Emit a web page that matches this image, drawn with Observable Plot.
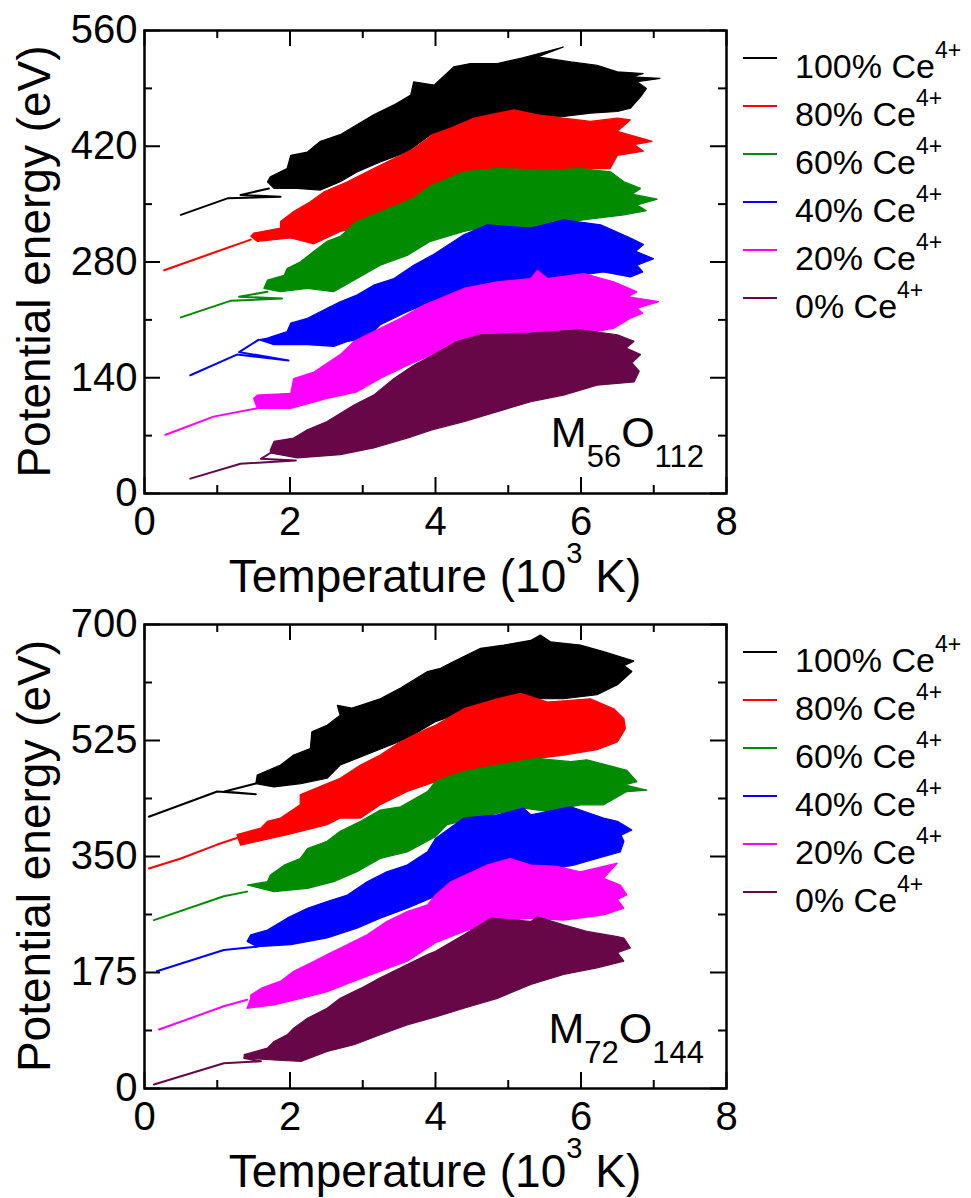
<!DOCTYPE html>
<html>
<head>
<meta charset="utf-8">
<script src="https://cdn.jsdelivr.net/npm/d3@7"></script>
<script src="https://cdn.jsdelivr.net/npm/@observablehq/plot@0.6"></script>
<style>
  html, body { margin: 0; padding: 0; background: #fff; }
  #chart svg { display: block; }
</style>
</head>
<body>
<div id="chart"></div>
<script>
// ---------- categories, colours, ticks ----------
const seriesNames = ["100%", "80%", "60%", "40%", "20%", "0%"];
const seriesColors = ["#000000", "#ff0000", "#008b00", "#0000ff", "#ff00ff", "#670748"];
const xTicks = [0, 2, 4, 6, 8];
const xMinorTicks = [1, 3, 5, 7];
const yTicksTop = [0, 140, 280, 420, 560];
const yMinorTop = [70, 210, 350, 490];
const yTicksBottom = [0, 175, 350, 525, 700];
const yMinorBottom = [87.5, 262.5, 437.5, 612.5];

// ---------- M56O112 (top): [T (10^3 K), E (eV)] ----------
// initial heating traces
const top100Line = [[0.50,337],[1.14,357],[1.87,359],[1.32,361],[1.71,369]];
const top80Line  = [[0.27,270],[0.91,290],[1.46,307]];
const top60Line  = [[0.50,213],[1.18,233],[1.89,236],[1.30,238],[1.69,244]];
const top40Line  = [[0.63,143],[1.27,168],[1.98,161],[1.30,171],[1.57,186]];
const top20Line  = [[0.29,71],[0.95,93],[1.55,103]];
const top0Line   = [[0.63,18],[1.32,36],[2.08,40],[1.60,42],[1.73,49]];
// outlines of the fluctuating regions
const top100Blob = [[1.69,377],[1.73,383],[1.96,393],[2.01,409],[2.24,413],[2.42,426],[2.69,434],[2.92,446],[3.15,458],[3.43,470],[3.66,482],[3.70,498],[3.98,494],[4.25,516],[4.48,520],[4.85,520],[5.20,527],[5.76,540],[5.40,528],[5.86,522],[6.22,518],[6.50,510],[6.86,508],[6.70,504],[7.09,502],[6.77,498],[6.90,490],[6.82,480],[6.68,466],[6.50,462],[6.13,460],[5.76,456],[5.31,455],[4.85,454],[4.39,446],[4.21,440],[3.93,434],[3.61,413],[3.24,401],[2.92,389],[2.69,377],[2.42,367],[2.10,369],[1.78,369]];
const top80Blob = [[1.46,311],[1.50,315],[1.87,321],[1.87,329],[2.05,341],[2.28,353],[2.47,365],[2.79,377],[3.15,393],[3.43,405],[3.70,417],[3.96,434],[4.21,442],[4.53,454],[5.08,464],[5.40,458],[5.76,454],[6.13,450],[6.50,454],[6.68,452],[6.50,438],[6.98,426],[6.73,422],[6.86,414],[6.50,409],[6.40,393],[6.13,393],[5.76,389],[5.54,389],[5.08,393],[4.62,381],[4.21,369],[3.95,365],[3.61,353],[3.38,341],[3.15,329],[2.92,321],[2.69,317],[2.33,302],[2.01,309],[1.55,305]];
const top60Blob = [[1.64,248],[1.69,258],[1.92,264],[1.96,272],[2.14,280],[2.33,293],[2.51,305],[2.69,311],[2.92,329],[3.15,337],[3.43,347],[3.70,357],[3.93,372],[4.39,389],[4.85,393],[5.54,391],[5.99,393],[6.41,389],[6.59,377],[6.82,369],[6.70,362],[7.05,356],[6.77,349],[6.90,342],[6.59,337],[6.22,333],[5.86,329],[5.31,321],[4.85,325],[4.39,317],[3.93,305],[3.61,288],[3.24,276],[2.92,260],[2.60,244],[2.24,248],[1.87,244]];
const top40Blob = [[1.57,186],[1.69,188],[1.96,196],[2.01,206],[2.24,212],[2.51,224],[2.69,232],[2.92,240],[3.15,252],[3.43,260],[3.70,276],[3.95,288],[4.39,313],[4.71,325],[5.31,321],[5.76,331],[6.27,325],[6.68,309],[6.86,301],[6.75,293],[7.00,284],[6.77,276],[6.85,268],[6.68,262],[6.31,268],[5.99,264],[5.54,260],[4.85,252],[4.39,244],[3.95,232],[3.61,220],[3.24,204],[3.06,188],[2.79,184],[2.60,178],[2.24,180],[1.78,180]];
const top20Blob = [[1.50,115],[1.55,119],[2.01,121],[2.05,139],[2.33,147],[2.69,168],[2.88,184],[3.15,196],[3.52,212],[3.84,228],[3.95,232],[4.39,248],[4.85,256],[5.31,260],[5.40,270],[5.54,260],[6.04,266],[6.45,256],[6.77,244],[6.65,238],[7.07,232],[6.77,224],[6.85,218],[6.68,212],[6.45,200],[5.99,192],[5.54,196],[4.85,188],[4.39,180],[3.95,168],[3.61,155],[3.24,139],[2.92,123],[2.51,115],[2.01,103],[1.55,103]];
const top0Blob = [[1.73,53],[1.78,63],[2.05,67],[2.24,77],[2.51,87],[2.88,107],[3.15,119],[3.43,139],[3.70,155],[3.95,167],[4.30,184],[4.62,192],[5.31,194],[5.99,198],[6.50,192],[6.73,184],[6.62,176],[6.82,168],[6.70,158],[6.80,148],[6.73,135],[6.22,131],[5.76,119],[5.31,111],[4.85,99],[4.39,87],[3.95,77],[3.61,67],[3.15,55],[2.69,47],[2.10,43],[1.73,49]];

// ---------- M72O144 (bottom) ----------
const bot100Line = [[0.06,410],[1.00,448],[1.53,444],[1.10,448],[1.53,460]];
const bot80Line  = [[0.06,332],[0.50,347],[1.00,368],[1.27,378]];
const bot60Line  = [[0.13,254],[1.09,290],[1.41,297]];
const bot40Line  = [[0.17,177],[1.09,209],[1.55,214]];
const bot20Line  = [[0.20,89],[1.09,124],[1.41,134]];
const bot0Line   = [[0.13,6],[1.09,38],[1.60,41],[1.37,46]];
const bot100Blob = [[1.53,460],[1.55,473],[1.87,488],[2.05,503],[2.28,513],[2.30,538],[2.51,548],[2.69,563],[2.65,578],[2.85,574],[2.97,578],[3.24,588],[3.52,604],[3.89,629],[4.07,634],[4.25,644],[4.62,664],[4.94,669],[5.31,676],[5.44,684],[5.58,674],[5.99,669],[6.31,659],[6.73,645],[6.59,638],[6.70,629],[6.50,609],[6.22,594],[5.76,588],[5.31,588],[4.85,578],[4.39,568],[3.99,553],[3.61,528],[3.15,508],[2.69,488],[2.51,468],[2.15,460],[1.78,455]];
const bot80Blob = [[1.27,383],[1.60,393],[1.69,403],[1.87,408],[2.14,428],[2.14,443],[2.47,458],[2.69,468],[2.97,488],[3.24,503],[3.52,523],[3.89,543],[4.00,548],[4.39,573],[4.85,588],[5.17,596],[5.54,583],[6.13,588],[6.45,573],[6.59,558],[6.61,543],[6.50,523],[6.22,511],[5.76,503],[5.40,498],[4.85,488],[4.39,478],[4.00,463],[3.61,448],[3.24,428],[2.97,408],[2.69,408],[2.51,398],[1.96,383],[1.32,367]];
const bot60Blob = [[1.41,307],[1.69,312],[1.73,322],[1.92,337],[2.14,347],[2.24,362],[2.51,373],[2.69,388],[2.97,403],[3.24,420],[3.52,425],[3.89,448],[4.00,463],[4.39,478],[4.85,488],[5.40,498],[5.86,493],[6.08,496],[6.63,480],[6.77,463],[6.60,458],[6.91,450],[6.63,448],[6.31,428],[5.99,428],[5.54,418],[5.21,423],[4.62,410],[4.16,398],[4.00,380],[3.61,357],[3.24,347],[2.92,327],[2.60,312],[2.24,302],[1.78,297]];
const bot40Blob = [[1.41,222],[1.46,232],[1.69,239],[1.96,257],[2.24,272],[2.51,282],[2.79,292],[3.06,312],[3.33,327],[3.61,337],[3.89,357],[4.00,377],[4.39,408],[4.85,413],[5.21,423],[5.31,413],[5.86,425],[6.31,408],[6.50,403],[6.70,390],[6.55,382],[6.59,373],[6.54,357],[6.22,347],[5.90,337],[5.40,327],[4.85,317],[4.39,307],[4.00,290],[3.61,272],[3.24,257],[2.92,242],[2.51,227],[2.01,217],[1.55,214]];
const bot20Blob = [[1.46,136],[1.46,141],[1.60,151],[1.87,162],[2.05,177],[2.33,192],[2.51,202],[2.79,217],[3.06,232],[3.33,252],[3.61,267],[3.89,277],[4.00,292],[4.21,312],[4.71,337],[5.03,347],[5.31,337],[5.67,335],[5.99,327],[6.50,340],[6.31,317],[6.54,307],[6.63,292],[6.50,285],[6.59,272],[6.31,262],[5.76,254],[5.31,257],[4.85,252],[4.39,237],[4.00,220],[3.61,192],[3.24,177],[2.88,162],[2.51,146],[2.15,136],[1.78,126],[1.41,121]];
const bot0Blob = [[1.37,51],[1.69,61],[1.78,71],[1.96,81],[2.05,91],[2.24,106],[2.51,121],[2.69,136],[2.97,151],[3.24,167],[3.52,182],[3.89,202],[4.00,207],[4.39,232],[4.76,257],[5.31,252],[5.40,259],[5.76,247],[6.08,237],[6.50,229],[6.59,227],[6.68,212],[6.50,205],[6.59,192],[6.22,182],[5.76,172],[5.31,157],[4.85,136],[4.39,121],[4.00,108],[3.61,96],[3.24,81],[2.88,66],[2.51,56],[2.15,41],[1.78,43],[1.37,46]];

const FONT = "'Liberation Sans', Arial, Helvetica, sans-serif";

function panel(cfg) {
  const W = 971, mL = 144, mR = 245;
  const pw = W - mL - mR;
  const ph = cfg.height - cfg.marginTop - cfg.marginBottom;
  const marks = [];
  seriesNames.forEach((name, i) => {
    marks.push(Plot.line(cfg.lines[i], {x: d => d[0], y: d => d[1], stroke: seriesColors[i], strokeWidth: 2}));
    marks.push(Plot.line(cfg.blobs[i], {x: d => d[0], y: d => d[1], curve: "linear-closed",
      fill: seriesColors[i], stroke: seriesColors[i], strokeWidth: 1.2, strokeLinejoin: "miter"}));
  });
  marks.push(
    Plot.tickX(xTicks, {x: d => d, insetTop: ph - 16, strokeWidth: 2}),
    Plot.tickX(xTicks, {x: d => d, insetBottom: ph - 16, strokeWidth: 2}),
    Plot.tickX(xMinorTicks, {x: d => d, insetTop: ph - 8, strokeWidth: 2}),
    Plot.tickX(xMinorTicks, {x: d => d, insetBottom: ph - 8, strokeWidth: 2}),
    Plot.tickY(cfg.yTicks, {y: d => d, insetRight: pw - 16, strokeWidth: 2}),
    Plot.tickY(cfg.yTicks, {y: d => d, insetLeft: pw - 16, strokeWidth: 2}),
    Plot.tickY(cfg.yMinor, {y: d => d, insetRight: pw - 8, strokeWidth: 2}),
    Plot.tickY(cfg.yMinor, {y: d => d, insetLeft: pw - 8, strokeWidth: 2}),
    Plot.frame({stroke: "black", strokeWidth: 2.5}),
    Plot.axisX(xTicks, {tickSize: 0, tickPadding: 13, fontSize: 40, label: null}),
    Plot.axisY(cfg.yTicks, {tickSize: 0, tickPadding: 7, fontSize: 40, label: null})
  );
  const svgEl = Plot.plot({
    width: W, height: cfg.height,
    marginLeft: mL, marginRight: mR, marginTop: cfg.marginTop, marginBottom: cfg.marginBottom,
    x: {domain: [0, 8], label: null},
    y: {domain: cfg.yDomain, label: null},
    style: {fontFamily: FONT, fontSize: "40px", background: "white", color: "black", overflow: "visible"},
    marks
  });
  const svg = d3.select(svgEl);
  const g = svg.append("g").attr("font-family", FONT).attr("fill", "black").attr("text-anchor", "start");
  const cx = mL + pw / 2, cy = cfg.marginTop + ph / 2;
  // x title
  const xt = g.append("text").attr("x", cx).attr("y", cfg.xTitleY).attr("text-anchor", "middle").attr("font-size", 46);
  xt.append("tspan").text("Temperature (10");
  xt.append("tspan").attr("font-size", 29).attr("dy", -29).text("3");
  xt.append("tspan").attr("dy", 29).text(" K)");
  // y title
  g.append("text").attr("transform", `translate(50,${cy}) rotate(-90)`).attr("text-anchor", "middle")
    .attr("font-size", 46).text("Potential energy (eV)");
  // legend
  seriesNames.forEach((name, i) => {
    const by = cfg.legendY + 48 * i;
    g.append("line").attr("x1", 743).attr("x2", 777).attr("y1", by - 20).attr("y2", by - 20)
      .attr("stroke", seriesColors[i]).attr("stroke-width", 2);
    const t = g.append("text").attr("x", 795).attr("y", by).attr("text-anchor", "start").attr("font-size", 34);
    t.append("tspan").text(name + " Ce");
    t.append("tspan").attr("font-size", 23).attr("dy", -20).text("4+");
  });
  // formula label
  const f = g.append("text").attr("x", 704).attr("y", cfg.formulaY).attr("text-anchor", "end").attr("font-size", 43);
  f.append("tspan").text("M");
  f.append("tspan").attr("font-size", 31).attr("dy", 20).text(cfg.formula[0]);
  f.append("tspan").attr("dy", -20).text("O");
  f.append("tspan").attr("font-size", 31).attr("dy", 20).text(cfg.formula[1]);
  return svgEl;
}

const chart = document.getElementById("chart");
chart.appendChild(panel({
  height: 600, marginTop: 30, marginBottom: 107,
  yDomain: [0, 560], yTicks: yTicksTop, yMinor: yMinorTop,
  lines: [top100Line, top80Line, top60Line, top40Line, top20Line, top0Line],
  blobs: [top100Blob, top80Blob, top60Blob, top40Blob, top20Blob, top0Blob],
  xTitleY: 592, legendY: 78, formulaY: 447, formula: ["56", "112"]
}));
chart.appendChild(panel({
  height: 598, marginTop: 24, marginBottom: 110,
  yDomain: [0, 700], yTicks: yTicksBottom, yMinor: yMinorBottom,
  lines: [bot100Line, bot80Line, bot60Line, bot40Line, bot20Line, bot0Line],
  blobs: [bot100Blob, bot80Blob, bot60Blob, bot40Blob, bot20Blob, bot0Blob],
  xTitleY: 587, legendY: 72, formulaY: 443, formula: ["72", "144"]
}));
</script>
</body>
</html>
